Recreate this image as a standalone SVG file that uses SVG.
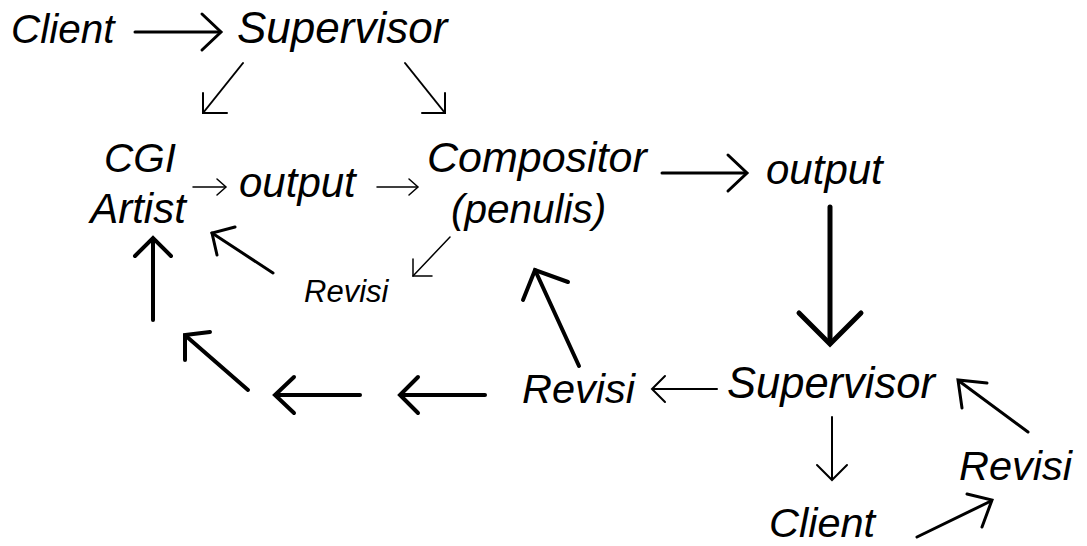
<svg xmlns="http://www.w3.org/2000/svg" width="1087" height="546" viewBox="0 0 1087 546">
  <style>
    .lbl { font-family: "Liberation Sans", Arial, sans-serif; font-style: italic; fill: #000; }
    .arr { fill: none; stroke: #000; stroke-linecap: round; stroke-linejoin: miter; }
    .w15 { stroke-width: 1.5; }
    .w2 { stroke-width: 2; }
    .w3 { stroke-width: 3; }
    .w4 { stroke-width: 4; }
    .w5 { stroke-width: 5; }
  </style>
  <rect width="1087" height="546" fill="#fff"/>

  <!-- nodes -->
  <g id="client-top"><text class="lbl" x="11" y="43" font-size="40.5">Client</text></g>
  <g id="supervisor-top"><text class="lbl" x="237" y="43" font-size="44">Supervisor</text></g>
  <g id="cgi-artist">
    <text class="lbl" x="140" y="172" font-size="40.5" text-anchor="middle">CGI</text>
    <text class="lbl" x="138" y="223" font-size="42" text-anchor="middle">Artist</text>
  </g>
  <g id="output-1"><text class="lbl" x="239" y="197" font-size="42">output</text></g>
  <g id="compositor">
    <text class="lbl" x="427" y="172" font-size="43">Compositor</text>
    <text class="lbl" x="451" y="223" font-size="40.5">(penulis)</text>
  </g>
  <g id="output-2"><text class="lbl" x="766" y="184" font-size="42">output</text></g>
  <g id="revisi-small"><text class="lbl" x="304" y="302" font-size="31">Revisi</text></g>
  <g id="revisi-mid"><text class="lbl" x="522" y="403" font-size="41.5">Revisi</text></g>
  <g id="supervisor-bottom"><text class="lbl" x="727" y="398" font-size="43.5">Supervisor</text></g>
  <g id="client-bottom"><text class="lbl" x="769" y="537" font-size="41.5">Client</text></g>
  <g id="revisi-right"><text class="lbl" x="959" y="480" font-size="41.5">Revisi</text></g>

  <!-- connectors: shaft + open chevron head -->
  <g id="connectors">
    <!-- Client -> Supervisor -->
    <g class="arr w3"><line x1="135" y1="32" x2="220" y2="32"/><polyline points="202,14 221,32 202,50"/></g>
    <!-- Supervisor -> CGI Artist -->
    <g class="arr w2"><line x1="243" y1="63" x2="203" y2="113"/><polyline points="203,93 203,113 227,113"/></g>
    <!-- Supervisor -> Compositor -->
    <g class="arr w2"><line x1="405" y1="63" x2="445" y2="113"/><polyline points="445,93 445,113 422,113"/></g>
    <!-- CGI Artist -> output -->
    <g class="arr w15"><line x1="193" y1="187" x2="225" y2="187"/><polyline points="217,179 226,187 217,195"/></g>
    <!-- output -> Compositor -->
    <g class="arr w15"><line x1="377" y1="187" x2="417" y2="187"/><polyline points="409,179 418,187 409,195"/></g>
    <!-- Compositor -> output -->
    <g class="arr w3"><line x1="662" y1="173" x2="746" y2="173"/><polyline points="728,155 747,173 728,191"/></g>
    <!-- output -> Supervisor -->
    <g class="arr w5"><line x1="830" y1="207" x2="830" y2="343"/><polyline points="799,313 830,344 861,313"/></g>
    <!-- Compositor -> Revisi (small) -->
    <g class="arr w15"><line x1="450" y1="237" x2="413" y2="276"/><polyline points="413,259 413,276 432,276"/></g>
    <!-- Revisi (small) -> CGI Artist -->
    <g class="arr w3"><line x1="273" y1="273" x2="212" y2="233"/><polyline points="235,227 212,233 217,255"/></g>
    <!-- Supervisor -> Revisi -->
    <g class="arr w2"><line x1="717" y1="389" x2="653" y2="389"/><polyline points="665,376 652,389 665,402"/></g>
    <!-- Revisi -> Compositor -->
    <g class="arr w4"><line x1="579" y1="366" x2="535" y2="270"/><polyline points="523,300 535,270 568,282"/></g>
    <!-- Revisi -> CGI Artist, chain of returns -->
    <g class="arr w4"><line x1="485" y1="395" x2="401" y2="395"/><polyline points="418,377 400,395 418,413"/></g>
    <g class="arr w4"><line x1="360" y1="395" x2="276" y2="395"/><polyline points="294,377 275,395 294,413"/></g>
    <g class="arr w4"><line x1="248" y1="390" x2="186" y2="336"/><polyline points="210,332 185,335 185,360"/></g>
    <g class="arr w4"><line x1="153" y1="320" x2="153" y2="239"/><polyline points="135,256 153,238 171,256"/></g>
    <!-- Supervisor -> Client -->
    <g class="arr w2"><line x1="832" y1="417" x2="832" y2="479"/><polyline points="817,465 832,480 847,465"/></g>
    <!-- Client -> Revisi -->
    <g class="arr w3"><line x1="917" y1="537" x2="991" y2="501"/><polyline points="967,494 992,500 982,527"/></g>
    <!-- Revisi -> Supervisor -->
    <g class="arr w3"><line x1="1028" y1="432" x2="959" y2="381"/><polyline points="962,408 958,380 987,383"/></g>
  </g>
</svg>
